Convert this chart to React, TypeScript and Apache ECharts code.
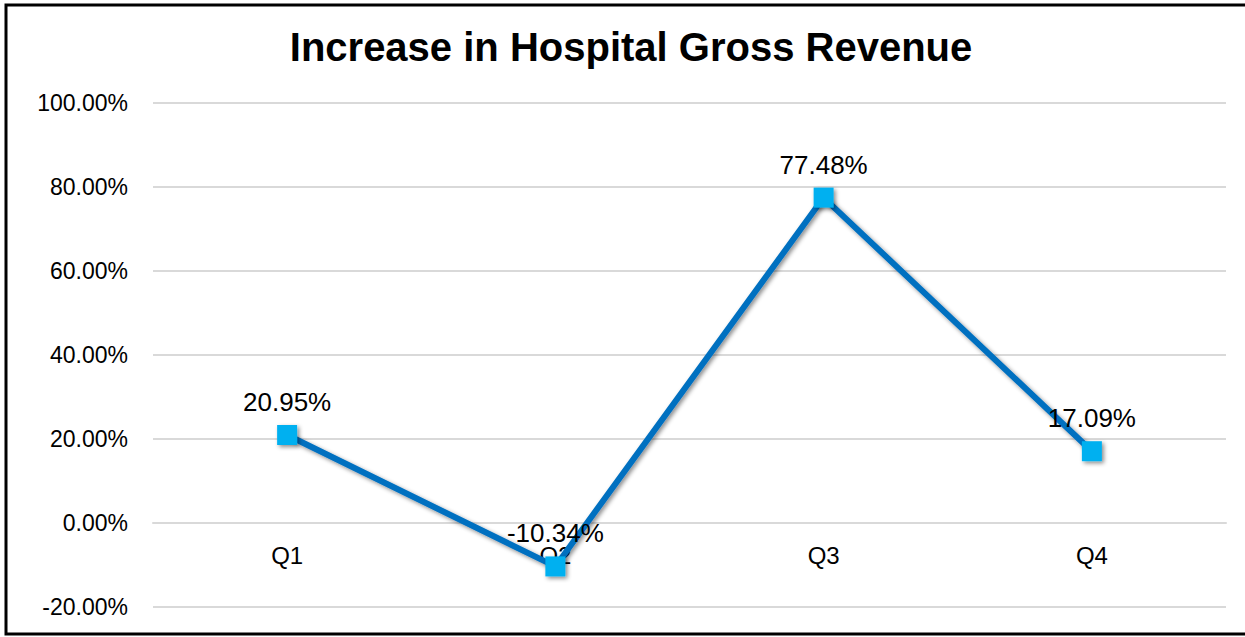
import React, { useEffect, useRef } from "react";
import * as echarts from "echarts";

const categories = ["Q1", "Q2", "Q3", "Q4"];
const growth = [20.95, -10.34, 77.48, 17.09];
const yMin = -20;
const yMax = 100;
const yInterval = 20;
const titleText = "Increase in Hospital Gross Revenue";

export default function App() {
  const ref = useRef<HTMLDivElement>(null);
  useEffect(() => {
    if (!ref.current) return;
    const chart = echarts.init(ref.current, undefined, { renderer: "svg" });
    const font = "Liberation Sans, Arial, sans-serif";
    const gridTop = 103;
    const gridBottom = 30;
    const plotH = 637 - gridTop - gridBottom;
    const zeroOffset = -Math.round((plotH * (0 - yMin)) / (yMax - yMin));
    chart.setOption({
      animation: false,
      backgroundColor: "#ffffff",
      graphic: [
        {
          type: "rect",
          shape: { x: 6, y: 5, width: 1260, height: 629 },
          style: { fill: "none", stroke: "#000000", lineWidth: 3 },
          z: 100,
        },
        {
          type: "text",
          x: 631,
          y: 47,
          style: {
            text: titleText,
            fontFamily: font,
            fontSize: 40,
            fontWeight: "bold",
            fill: "#000000",
            align: "center",
            verticalAlign: "middle",
          },
        },
      ],
      grid: {
        left: 153,
        right: 19,
        top: gridTop,
        bottom: gridBottom,
        containLabel: false,
        outerBoundsMode: "none",
      },
      xAxis: {
        type: "category",
        data: categories,
        boundaryGap: true,
        position: "bottom",
        offset: zeroOffset,
        axisLine: { show: true, onZero: false, lineStyle: { color: "#d9d9d9", width: 2 } },
        axisTick: { show: false },
        axisLabel: { color: "#000000", fontFamily: font, fontSize: 24, margin: 20 },
        splitLine: { show: false },
      },
      yAxis: {
        type: "value",
        min: yMin,
        max: yMax,
        interval: yInterval,
        axisLine: { show: false },
        axisTick: { show: false },
        axisLabel: {
          color: "#000000",
          fontFamily: font,
          fontSize: 23,
          margin: 25,
          formatter: (v: number) => v.toFixed(2) + "%",
        },
        splitLine: { show: true, lineStyle: { color: "#d9d9d9", width: 2 } },
      },
      series: [
        {
          type: "line",
          data: growth,
          symbol: "rect",
          symbolSize: 20,
          lineStyle: {
            color: "#0070C0",
            width: 6,
            shadowColor: "rgba(0,0,0,0.45)",
            shadowBlur: 4,
            shadowOffsetX: 2,
            shadowOffsetY: 2,
          },
          itemStyle: {
            color: "#00B0F0",
            borderWidth: 0,
            shadowColor: "rgba(0,0,0,0.45)",
            shadowBlur: 4,
            shadowOffsetX: 2,
            shadowOffsetY: 2,
          },
          label: {
            show: true,
            position: "top",
            distance: 10,
            color: "#000000",
            fontFamily: font,
            fontSize: 26,
            formatter: (p: any) => p.value.toFixed(2) + "%",
          },
          z: 3,
        },
      ],
    });
    return () => chart.dispose();
  }, []);
  return (
    <div
      ref={ref}
      style={{ position: "absolute", left: 0, top: 0, width: 1245, height: 637 }}
    />
  );
}
